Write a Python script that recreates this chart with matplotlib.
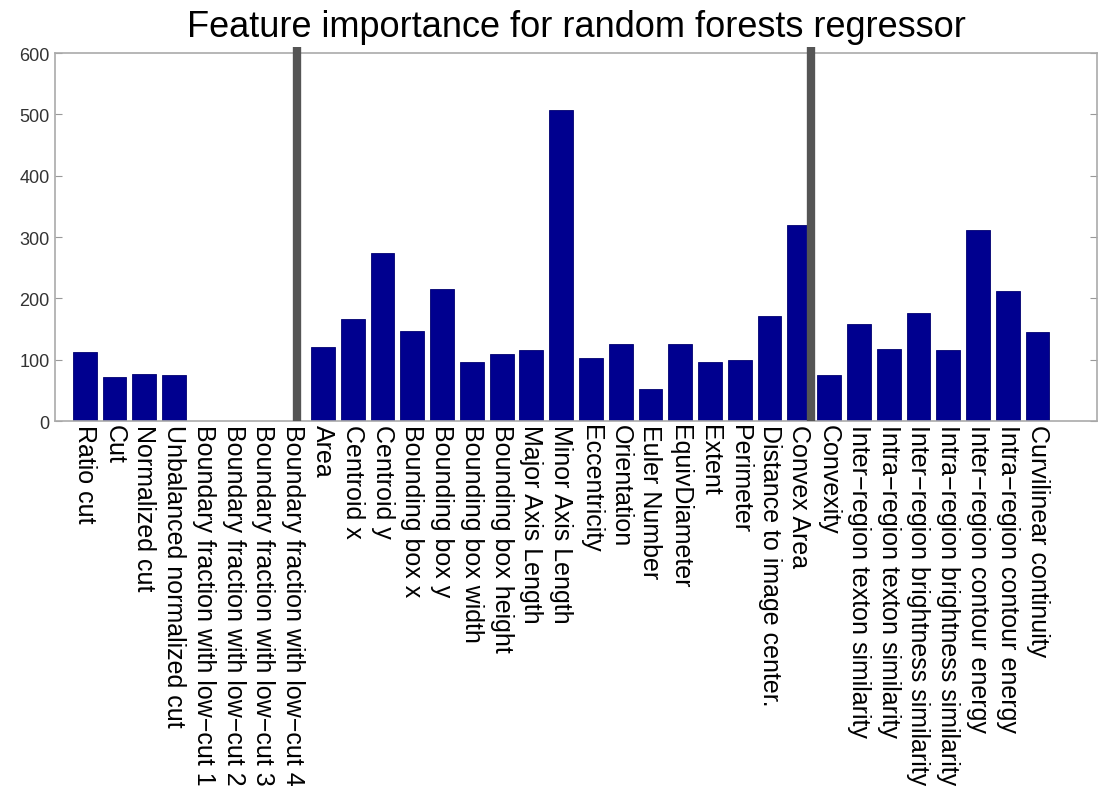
import matplotlib
matplotlib.use("Agg")
import matplotlib.pyplot as plt
import numpy as np

# ================= DATA ================= #
FEATURES = [
    "Ratio cut",
    "Cut",
    "Normalized cut",
    "Unbalanced normalized cut",
    "Boundary fraction with low\u2212cut 1",
    "Boundary fraction with low\u2212cut 2",
    "Boundary fraction with low\u2212cut 3",
    "Boundary fraction with low\u2212cut 4",
    "Area",
    "Centroid x",
    "Centroid y",
    "Bounding box x",
    "Bounding box y",
    "Bounding box width",
    "Bounding box height",
    "Major Axis Length",
    "Minor Axis Length",
    "Eccentricity",
    "Orientation",
    "Euler Number",
    "EquivDiameter",
    "Extent",
    "Perimeter",
    "Distance to image center.",
    "Convex Area",
    "Convexity",
    "Inter\u2212region texton similarity",
    "Intra\u2212region texton similarity",
    "Inter\u2212region brightness similarity",
    "Intra\u2212region brightness similarity",
    "Inter\u2212region contour energy",
    "Intra\u2212region contour energy",
    "Curvilinear continuity",
]

IMPORTANCE = [
    112, 72, 77, 75, 0, 0, 0, 0,
    121, 166, 274, 146, 216, 96, 110, 115, 507, 102, 126, 52,
    126, 96, 100, 172, 320,
    75, 159, 117, 176, 115, 311, 212, 145,
]

# group separators (between groups of features)
SEPARATORS = [8.12, 25.4]

# ================= PLOT ================= #
plt.rcParams["font.family"] = ["Liberation Sans", "DejaVu Sans"]

fig = plt.figure(figsize=(11.03, 8.04), dpi=100)
ax = fig.add_axes([0.0499, 0.4751, 0.9447, 0.4577])

x = np.arange(1, len(FEATURES) + 1)
ax.bar(x, IMPORTANCE, width=0.8, color="#00008f", edgecolor="#000070", linewidth=0.6)

for s in SEPARATORS:
    ax.plot([s, s], [0, 610], color="#555555", linewidth=6, solid_capstyle="butt",
            clip_on=False, zorder=5)

ax.set_xlim(0, 35)
ax.set_ylim(0, 600)
ax.set_yticks(range(0, 601, 100))
ax.set_xticks(x)
ax.set_xticklabels(FEATURES, rotation=270, fontsize=18, ha="center", va="top")

ax.tick_params(axis="y", direction="in", length=5, right=True, labelsize=13,
               labelcolor="#333333", color="#999999", pad=4)
ax.tick_params(axis="x", direction="in", length=0, pad=2)
for sp in ax.spines.values():
    sp.set_color("#aaaaaa")
    sp.set_linewidth(1.2)

ax.set_title("Feature importance for random forests regressor", fontsize=26, pad=12)

fig.savefig("out.png", dpi=100)
